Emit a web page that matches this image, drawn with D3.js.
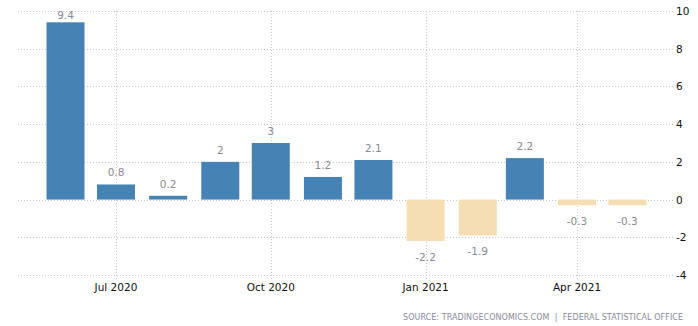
<!DOCTYPE html>
<html><head><meta charset="utf-8">
<script src="https://cdn.jsdelivr.net/npm/d3@7"></script>
<style>body{margin:0;background:#fff}svg{display:block}</style>
</head><body>
<script>
const months = ["2020-06","2020-07","2020-08","2020-09","2020-10","2020-11","2020-12","2021-01","2021-02","2021-03","2021-04","2021-05"];
const values = [9.4, 0.8, 0.2, 2, 3, 1.2, 2.1, -2.2, -1.9, 2.2, -0.3, -0.3];
const xTickDates = ["2020-07","2020-10","2021-01","2021-04"];
const xTickLabels = ["Jul 2020","Oct 2020","Jan 2021","Apr 2021"];
const yTicks = [-4, -2, 0, 2, 4, 6, 8, 10];
const source = "SOURCE: TRADINGECONOMICS.COM\u00a0\u00a0|\u00a0\u00a0FEDERAL STATISTICAL OFFICE";

const W = 698, H = 326;
const parse = d3.timeParse("%Y-%m");
const svg = d3.select("body").append("svg").attr("width", W).attr("height", H);
const font = "DejaVu Sans, Verdana, sans-serif";

const x = d3.scaleTime().domain([parse(months[0]), parse(months[months.length-1])]).range([65.5, 627.5]);
const y = d3.scaleLinear().domain([-4, 10]).range([275, 11]);
const gx0 = 18, gx1 = 675;
const barW = 38;

// horizontal grid
svg.append("g").selectAll("line").data(yTicks).join("line")
  .attr("x1", gx0).attr("x2", gx1)
  .attr("y1", d => Math.round(y(d)) + 0.5).attr("y2", d => Math.round(y(d)) + 0.5)
  .attr("stroke", "#c8c8c8").attr("stroke-width", 1).attr("stroke-dasharray", "1,2");

// vertical grid
svg.append("g").selectAll("line").data(xTickDates).join("line")
  .attr("x1", d => Math.round(x(parse(d))) + 0.5).attr("x2", d => Math.round(x(parse(d))) + 0.5)
  .attr("y1", y(10)).attr("y2", 280)
  .attr("stroke", "#c8c8c8").attr("stroke-width", 1).attr("stroke-dasharray", "1,2");

// bars
svg.append("g").selectAll("rect").data(values).join("rect")
  .attr("x", (d, i) => x(parse(months[i])) - barW / 2)
  .attr("width", barW)
  .attr("y", d => y(Math.max(0, d)))
  .attr("height", d => Math.abs(y(d) - y(0)))
  .attr("fill", d => d >= 0 ? "#4682b4" : "#f5deb3");

// value labels
svg.append("g").selectAll("text").data(values).join("text")
  .attr("x", (d, i) => x(parse(months[i])))
  .attr("y", d => d >= 0 ? Math.max(y(d) - 8, 19) : y(d) + 19.5)
  .attr("text-anchor", "middle")
  .attr("font-family", font).attr("font-size", 10.5)
  .attr("fill", "#8a8a96")
  .text(d => d);

// y tick labels
svg.append("g").selectAll("text").data(yTicks).join("text")
  .attr("x", 676).attr("y", d => y(d) + 4)
  .attr("font-family", font).attr("font-size", 10.5)
  .attr("fill", "#111")
  .text(d => d);

// x tick labels
svg.append("g").selectAll("text").data(xTickDates).join("text")
  .attr("x", d => x(parse(d))).attr("y", 291)
  .attr("text-anchor", "middle")
  .attr("font-family", font).attr("font-size", 10.5)
  .attr("fill", "#111")
  .text((d, i) => xTickLabels[i]);

// source
svg.append("text")
  .attr("x", 683).attr("y", 320)
  .attr("text-anchor", "end")
  .attr("font-family", font).attr("font-size", 8)
  .attr("fill", "#8a8aa0")
  .attr("textLength", 280).attr("lengthAdjust", "spacing")
  .text(source);
</script>
</body></html>
